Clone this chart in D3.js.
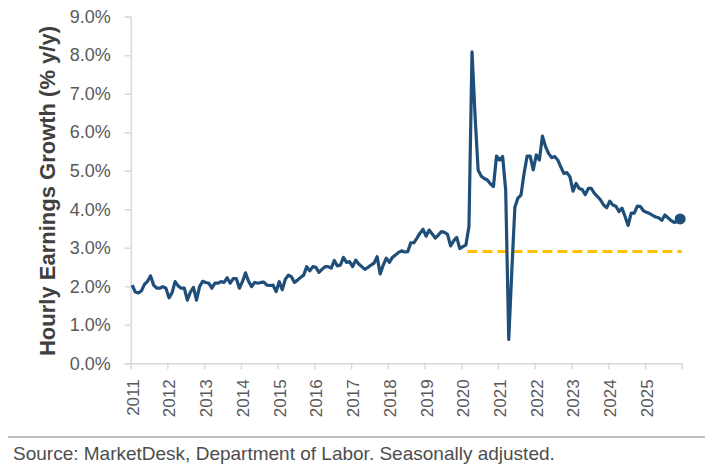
<!DOCTYPE html>
<html>
<head>
<meta charset="utf-8">
<script src="https://cdn.jsdelivr.net/npm/d3@7"></script>
<style>
  html, body { margin: 0; padding: 0; background: #fff; }
  svg { display: block; font-family: "Liberation Sans", Arial, sans-serif; }
</style>
</head>
<body>
<svg id="chart" width="713" height="473"></svg>
<script>
// monthly y/y growth of average hourly earnings, Jan 2011 .. Dec 2025
const startYear = 2011;
const yearLabels = [2011, 2012, 2013, 2014, 2015, 2016, 2017, 2018, 2019, 2020, 2021, 2022, 2023, 2024, 2025];
const yTicks = [0, 1, 2, 3, 4, 5, 6, 7, 8, 9];

const earnings2011_2014 = [
  2.03, 1.85, 1.83, 1.88, 2.05, 2.13, 2.27, 2.03, 1.95, 1.95, 1.99, 1.95,
  1.70, 1.83, 2.12, 2.01, 1.95, 1.95, 1.64, 1.85, 1.97, 1.64, 1.99, 2.13,
  2.10, 2.08, 1.95, 2.08, 2.08, 2.12, 2.10, 2.22, 2.08, 2.20, 2.20, 1.95,
  2.12, 2.35, 2.13, 1.99, 2.10, 2.08, 2.10, 2.11, 2.03, 2.02, 2.03, 1.86
];
const earnings2015_2019 = [
  2.12, 1.91, 2.18, 2.29, 2.25, 2.10, 2.16, 2.23, 2.29, 2.51, 2.40, 2.51,
  2.49, 2.36, 2.44, 2.51, 2.51, 2.47, 2.67, 2.53, 2.55, 2.75, 2.62, 2.64,
  2.51, 2.68, 2.58, 2.51, 2.44, 2.49, 2.55, 2.60, 2.77, 2.32, 2.55, 2.73,
  2.62, 2.75, 2.81, 2.88, 2.92, 2.89, 2.90, 3.13, 3.13, 3.25, 3.38, 3.48,
  3.30, 3.46, 3.36, 3.25, 3.33, 3.42, 3.40, 3.35, 3.05, 3.18, 3.27, 2.98
];
const earnings2020_2025 = [
  3.03, 3.07, 3.55, 8.09, 6.42, 5.02, 4.86, 4.80, 4.76, 4.66, 4.59, 5.38,
  5.28, 5.37, 4.50, 0.62, 2.40, 4.05, 4.29, 4.37, 4.93, 5.38, 5.38, 5.02,
  5.41, 5.28, 5.90, 5.63, 5.45, 5.34, 5.37, 5.28, 5.10, 4.93, 4.95, 4.84,
  4.47, 4.67, 4.54, 4.51, 4.38, 4.54, 4.54, 4.41, 4.33, 4.24, 4.11, 4.04,
  4.21, 4.11, 4.08, 3.94, 4.03, 3.81, 3.58, 3.90, 3.90, 4.08, 4.07, 3.96,
  3.92, 3.89, 3.84, 3.80, 3.78, 3.71, 3.85, 3.78, 3.71, 3.66, 3.68, 3.75
];

// pre-pandemic reference level, drawn from Mar 2020 onward
const refLevel = 2.9;
const refStart = { year: 2020, month: 3 };

const series = [...earnings2011_2014, ...earnings2015_2019, ...earnings2020_2025]
  .map((v, i) => ({ t: startYear + (i + 0.5) / 12, v: v }));

const svg = d3.select("#chart");
const margin = { top: 16.7, right: 31.3, bottom: 109.7, left: 130.7 };
const width = 713, height = 473;

const x = d3.scaleLinear()
  .domain([startYear, yearLabels[yearLabels.length - 1] + 1])
  .range([margin.left, width - margin.right]);

const y = d3.scaleLinear()
  .domain([0, 9])
  .range([height - margin.bottom, margin.top]);

// y axis
const yAxis = (g) => g
  .attr("transform", `translate(${margin.left},0)`)
  .call(d3.axisLeft(y).tickValues(yTicks).tickFormat(d => d.toFixed(1) + "%").tickSize(6).tickPadding(14))
  .call(g => g.select(".domain").attr("stroke", "#d9d9d9").attr("stroke-width", 1.5))
  .call(g => g.selectAll(".tick line").attr("stroke", "#d9d9d9").attr("stroke-width", 1.5))
  .call(g => g.selectAll(".tick text")
    .attr("fill", "#595959")
    .style("font-size", "18px")
    .style("font-family", "\"Liberation Sans\", Arial, sans-serif"));

// x axis, ticks at year boundaries
const xAxis = (g) => g
  .attr("transform", `translate(0,${height - margin.bottom})`)
  .call(d3.axisBottom(x)
    .tickValues([...yearLabels, yearLabels[yearLabels.length - 1] + 1])
    .tickFormat(d => yearLabels.includes(d) ? String(d) : "")
    .tickSize(6)
    .tickSizeOuter(0))
  .call(g => g.select(".domain").attr("stroke", "#d9d9d9").attr("stroke-width", 1.5))
  .call(g => g.selectAll(".tick line").attr("stroke", "#d9d9d9").attr("stroke-width", 1.5))
  .call(g => g.selectAll(".tick text")
    .attr("fill", "#595959")
    .style("font-size", "17px")
    .style("font-family", "\"Liberation Sans\", Arial, sans-serif")
    .attr("text-anchor", "end")
    .attr("y", 0)
    .attr("dy", "0.35em")
    .attr("transform", "translate(1.5,16) rotate(-90)"));

svg.append("g").call(yAxis);
svg.append("g").call(xAxis);

// axis title
svg.append("text")
  .attr("transform", `translate(55,191) rotate(-90)`)
  .attr("text-anchor", "middle")
  .attr("fill", "#404040")
  .style("font-size", "22px")
  .style("font-weight", "bold")
  .text("Hourly Earnings Growth (% y/y)");

// dashed reference line
svg.append("line")
  .attr("x1", x(refStart.year + (refStart.month - 1) / 12))
  .attr("x2", x.range()[1])
  .attr("y1", y(refLevel))
  .attr("y2", y(refLevel))
  .attr("stroke", "#FFC000")
  .attr("stroke-width", 3)
  .attr("stroke-dasharray", "10,5");

// main line
svg.append("path")
  .datum(series)
  .attr("fill", "none")
  .attr("stroke", "#1F4E79")
  .attr("stroke-width", 3.2)
  .attr("stroke-linejoin", "round")
  .attr("d", d3.line().x(d => x(d.t)).y(d => y(d.v)));

const last = series[series.length - 1];
svg.append("circle")
  .attr("cx", x(last.t))
  .attr("cy", y(last.v))
  .attr("r", 5.5)
  .attr("fill", "#1F4E79");

// footer
svg.append("line")
  .attr("x1", 8).attr("x2", 705)
  .attr("y1", 437).attr("y2", 437)
  .attr("stroke", "#bfbfbf")
  .attr("stroke-width", 2);

svg.append("text")
  .attr("x", 13)
  .attr("y", 460)
  .attr("fill", "#4d4d4d")
  .style("font-size", "19px")
  .text("Source: MarketDesk, Department of Labor. Seasonally adjusted.");
</script>
</body>
</html>
